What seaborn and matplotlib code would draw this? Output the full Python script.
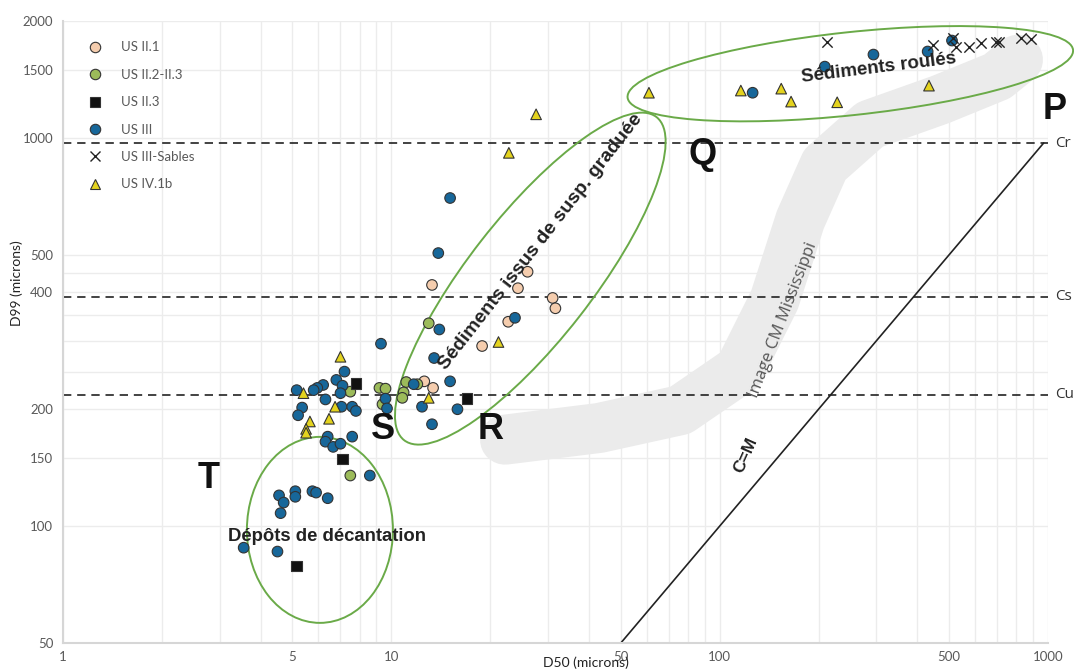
import numpy as np
import pandas as pd
import seaborn as sns
import matplotlib.pyplot as plt
from matplotlib.patches import Ellipse
from matplotlib.transforms import ScaledTranslation
from matplotlib.lines import Line2D
from matplotlib.ticker import NullFormatter

# D50 / D99 values (microns)
us21_d50 = [13.3, 26, 24.3, 31, 31.6, 22.7, 18.9, 12.6, 13.4]
us21_d99 = [418, 452, 410, 387, 364, 336, 291, 236, 227]

us22_d50 = [13.0, 12.0, 11.1, 10.9, 10.8, 9.2, 9.6, 9.4, 7.5, 7.5]
us22_d99 = [333, 232, 235, 221, 214, 227, 226, 206, 222, 135]

us23_d50 = [7.8, 17.0, 7.1, 5.15]
us23_d99 = [233, 213, 149, 79]

us3_d50 = [126, 209, 294, 430, 510,
           15.1, 13.9, 23.8, 14.0, 13.5, 15.1, 11.7, 12.4, 15.9, 13.3,
           9.3, 7.2, 6.8, 7.1, 6.2, 5.95, 5.8, 5.15, 7.0, 6.3, 7.05, 7.6, 7.8,
           5.35, 5.2, 9.6, 9.7, 6.4, 6.3, 6.65, 7.0, 7.6, 8.6,
           4.55, 4.7, 5.1, 5.1, 5.75, 5.9, 6.4, 4.6, 3.55, 4.5]
us3_d99 = [1307, 1526, 1639, 1669, 1781,
           700, 505, 344, 321, 271, 236, 232, 203, 200, 183,
           295, 250, 238, 230, 231, 227, 224, 224, 220, 212, 203, 203, 198,
           202, 193, 213, 201, 170, 165, 160, 163, 170, 135,
           120, 115, 123, 119, 123, 122, 118, 108, 88, 86]

sables_d50 = [212, 446, 513, 526, 575, 625, 695, 710, 830, 890]
sables_d99 = [1770, 1738, 1812, 1718, 1710, 1760, 1770, 1770, 1810, 1795]

us4_d50 = [7.0, 5.4, 6.74, 5.65, 6.46, 5.5, 5.5, 13.0, 21.2, 22.8, 27.6,
           60.9, 116, 154, 165, 228, 434]
us4_d99 = [273, 220, 203, 186, 189, 178, 174, 214, 298, 915, 1150,
           1307, 1324, 1339, 1240, 1235, 1363]

groups = ['US II.1', 'US II.2-II.3', 'US II.3', 'US III', 'US III-Sables', 'US IV.1b']
colors = {'US II.1': '#F5CDAE', 'US II.2-II.3': '#9CBB5A', 'US II.3': '#111111',
          'US III': '#17679A', 'US III-Sables': '#222222', 'US IV.1b': '#E4D31E'}
markers = {'US II.1': 'o', 'US II.2-II.3': 'o', 'US II.3': 's',
           'US III': 'o', 'US III-Sables': 'x', 'US IV.1b': '^'}

# passega limits
c_levels = [970, 390, 218]
c_names = ['Cr', 'Cs', 'Cu']

# grey band of the Mississippi CM image
band_d50 = [22.2, 43, 76, 115, 147, 176, 209, 287, 469, 700, 810]
band_d99 = [167, 179, 199, 253, 383, 615, 853, 1082, 1254, 1440, 1590]

df = pd.concat([
    pd.DataFrame({'D50': us21_d50, 'D99': us21_d99, 'group': 'US II.1'}),
    pd.DataFrame({'D50': us22_d50, 'D99': us22_d99, 'group': 'US II.2-II.3'}),
    pd.DataFrame({'D50': us23_d50, 'D99': us23_d99, 'group': 'US II.3'}),
    pd.DataFrame({'D50': us3_d50, 'D99': us3_d99, 'group': 'US III'}),
    pd.DataFrame({'D50': us4_d50, 'D99': us4_d99, 'group': 'US IV.1b'}),
], ignore_index=True)
sab = pd.DataFrame({'D50': sables_d50, 'D99': sables_d99})
filled = [g for g in groups if g != 'US III-Sables']

sns.set_theme(style='white')
plt.rcParams['font.family'] = ['Lato', 'DejaVu Sans']

fig = plt.figure(figsize=(10.74, 6.70), dpi=100)
ax = fig.add_axes([63 / 1074, 27 / 670, 985 / 1074, 622 / 670])
ax.set_xscale('log')
ax.set_yscale('log')
ax.set_xlim(1, 1000)
ax.set_ylim(50, 2000)

ax.set_xticks([1, 5, 10, 50, 100, 500, 1000])
ax.set_xticklabels(['1', '5', '10', '50', '100', '500', '1000'])
xminor = [m * d for d in [1, 10, 100] for m in [2, 3, 4, 6, 7, 8, 9]]
ax.set_xticks(xminor, minor=True)
ax.set_yticks([50, 100, 150, 200, 400, 500, 1000, 1500, 2000])
ax.set_yticklabels(['50', '100', '150', '200', '400', '500', '1000', '1500', '2000'])
ax.set_yticks([250, 300, 350, 450], minor=True)
ax.xaxis.set_minor_formatter(NullFormatter())
ax.yaxis.set_minor_formatter(NullFormatter())
ax.tick_params(which='both', length=0, labelsize=9.5, labelcolor='#595959')
ax.tick_params(axis='x', pad=6)
ax.tick_params(axis='y', pad=7)
ax.grid(which='both', color='#ececec', lw=1)
ax.set_axisbelow(True)
for s in ['top', 'right']:
    ax.spines[s].set_visible(False)
for s in ['left', 'bottom']:
    ax.spines[s].set_color('#d6d6d6')
    ax.spines[s].set_linewidth(1.5)

# grey band
ax.plot(band_d50, band_d99, color='#ebebeb', lw=36, solid_capstyle='round',
        solid_joinstyle='round', zorder=1)

# limits and C=M line
ax.hlines(c_levels, 1, 1000, colors='#222222', linestyles=(0, (5, 3.5)), lw=1.2, zorder=2)
for lv, nm in zip(c_levels, c_names):
    ax.text(1050, lv, nm, fontsize=11, color='#333333', va='center', ha='left',
            family=['Open Sans', 'DejaVu Sans'])
ax.plot([50, 970], [50, 970], color='#222222', lw=1.2, zorder=2)

# points
sns.scatterplot(data=df, x='D50', y='D99', hue='group', style='group',
                hue_order=filled, style_order=filled,
                palette={g: colors[g] for g in filled},
                markers={g: markers[g] for g in filled}, s=58, edgecolor='#333333',
                linewidth=0.8, legend=False, ax=ax, zorder=4)
sns.scatterplot(data=sab, x='D50', y='D99', marker='x', color='#222222', s=55,
                linewidth=1.0, legend=False, ax=ax, zorder=4)


def add_ellipse(cx, cy, w_px, h_px, angle):
    fig.canvas.draw()
    disp = ax.transData.transform((cx, cy))
    axy = ax.transAxes.inverted().transform(disp)
    e = Ellipse((0, 0), w_px / 100, h_px / 100, angle=angle, fill=False,
                ec='#6AAA48', lw=1.4, zorder=3, clip_on=False,
                transform=fig.dpi_scale_trans + ScaledTranslation(axy[0], axy[1], ax.transAxes))
    ax.add_patch(e)


add_ellipse(6.06, 97.8, 146, 186, 0)
add_ellipse(26.5, 434, 410, 124, 52)
add_ellipse(250, 1463, 448, 83, 6.1)

bold = dict(family=['Liberation Sans', 'DejaVu Sans'], weight='bold', color='#222222',
            ha='center', va='center', rotation_mode='anchor', zorder=5)
ax.text(6.37, 93.8, 'Dépôts de décantation', fontsize=13.3, **bold)
ax.text(28.5, 540, 'Sédiments issus de susp. graduée', fontsize=14, rotation=52, **bold)
ax.text(305, 1512, 'Sédiments roulés', fontsize=13.5, rotation=7, **bold)
ax.text(120, 152, 'C=M', fontsize=12.5, rotation=66, **bold)
ax.text(156, 340, 'Image CM Mississippi', fontsize=12, rotation=69, color='#555555',
        ha='center', va='center', rotation_mode='anchor', family=['Open Sans', 'DejaVu Sans'])

big = dict(family=['Liberation Sans', 'DejaVu Sans'], weight='bold', color='#111111',
           fontsize=26, ha='center', va='center', zorder=5)
for lx, ly, lt in [(2.77, 133, 'T'), (9.43, 177, 'S'), (20.0, 177, 'R'),
                   (89, 906, 'Q'), (1051, 1182, 'P')]:
    ax.text(lx, ly, lt, **big)

ax.set_xlabel('D50 (microns)', fontsize=10, color='#222222')
ax.xaxis.set_label_coords(0.531, -0.022)
ax.set_ylabel('D99 (microns)', fontsize=10, color='#222222')
ax.yaxis.set_label_coords(-0.041, 0.579)

handles = []
for g in groups:
    if g == 'US III-Sables':
        h = Line2D([], [], marker='x', ls='', color='#222222', ms=7, mew=1.0)
    else:
        h = Line2D([], [], marker=markers[g], ls='', mfc=colors[g], mec='#333333',
                   ms=7.5, mew=0.8)
    handles.append(h)
ax.legend(handles, groups, loc='upper left', bbox_to_anchor=(0.019, 0.978),
          frameon=False, borderpad=0, handlelength=1.0, handletextpad=1.45,
          labelspacing=1.17, fontsize=9.5, labelcolor='#595959')

fig.savefig('out.png', dpi=100)
